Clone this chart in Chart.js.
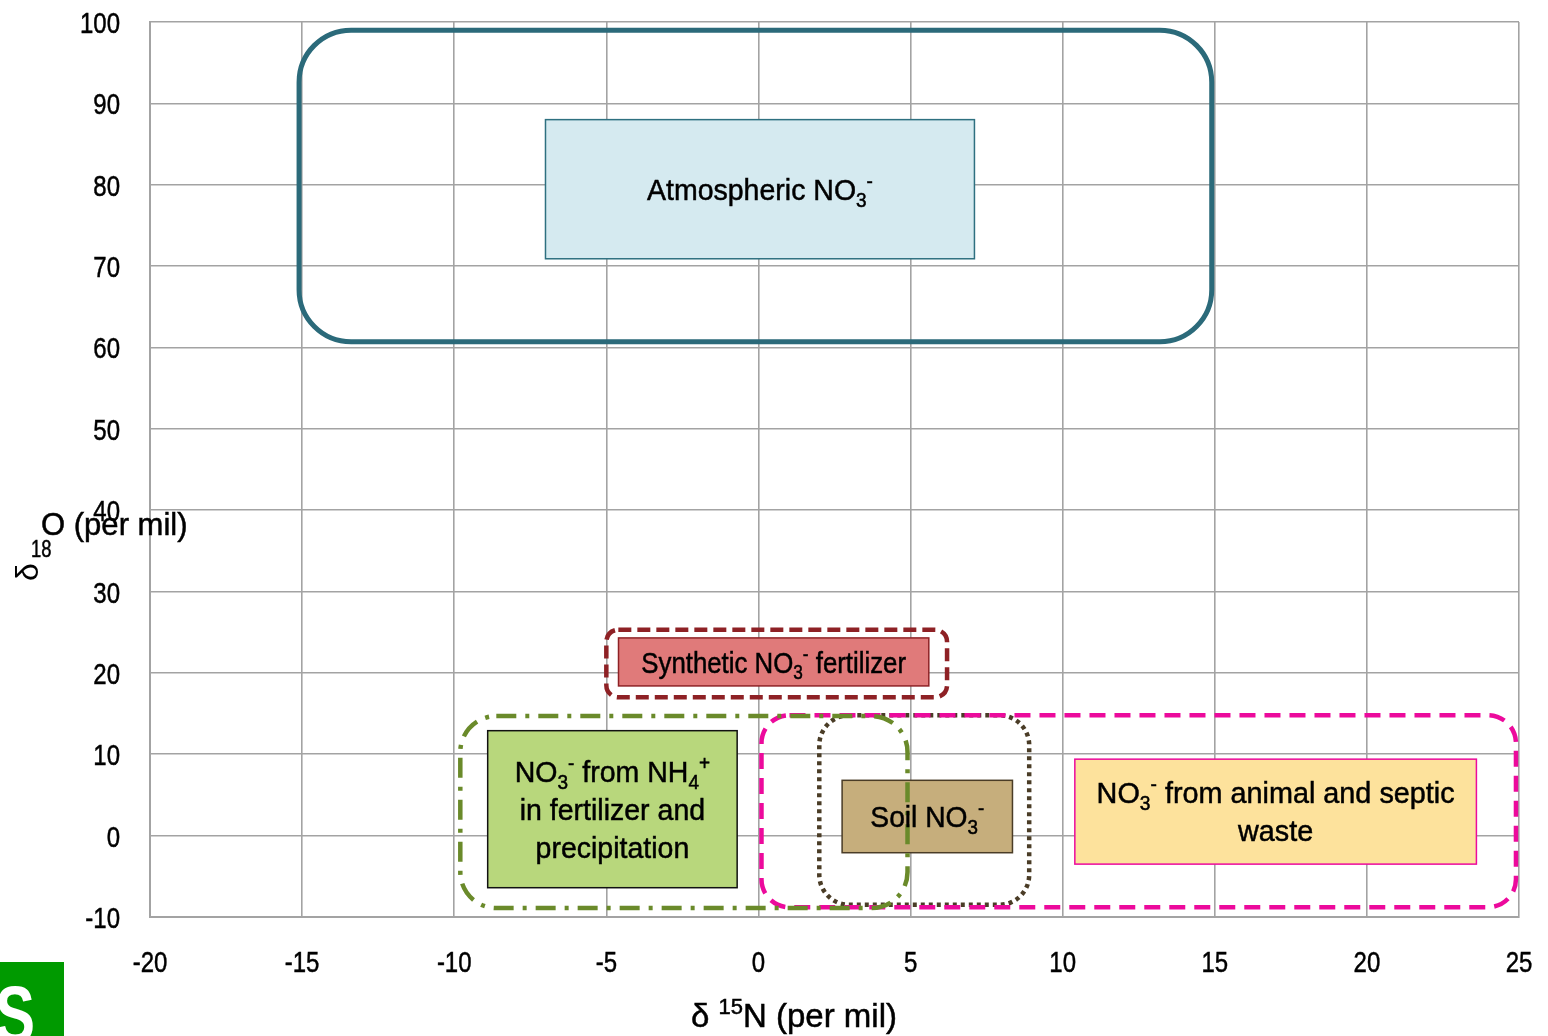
<!DOCTYPE html>
<html>
<head>
<meta charset="utf-8">
<script src="https://cdn.jsdelivr.net/npm/chart.js@4/dist/chart.umd.min.js"></script>
<style>
  html, body { margin: 0; padding: 0; background: #fff; }
  #wrap { position: relative; width: 1548px; height: 1036px; }
</style>
</head>
<body>
<div id="wrap"><canvas id="c" width="1548" height="1036"></canvas></div>
<script>
// ---- Data (per mil) ----
const xTicks = [-20, -15, -10, -5, 0, 5, 10, 15, 20, 25];
const yTicks = [-10, 0, 10, 20, 30, 40, 50, 60, 70, 80, 90, 100];

const sourceNames = ['Atmospheric', 'Synthetic fertilizer', 'NH4 fertilizer and precipitation', 'Soil', 'Animal and septic waste'];
// outer range outlines (rounded boxes)
const rangeX0 = [-15.1, -5.0, -9.8, 2.0, 0.1];
const rangeX1 = [14.9, 6.2, 4.9, 8.9, 24.9];
const rangeY0 = [60.7, 17.0, -8.9, -8.5, -8.8];
const rangeY1 = [99.0, 25.3, 14.7, 14.8, 14.8];
// labelled boxes
const labelX0 = [-7.0, -4.6, -8.9, 2.75, 10.4];
const labelX1 = [7.1, 5.6, -0.7, 8.35, 23.6];
const labelY0 = [70.9, 18.4, -6.4, -2.1, -3.5];
const labelY1 = [88.0, 24.3, 12.9, 6.8, 9.4];
// label text: lines of segments [text, mode] mode: n normal, b sub, p sup
const labelLines = [
  [[['Atmospheric NO','n'],['3','b'],['-','p']]],
  [[['Synthetic NO','n'],['3','b'],['-','p'],[' fertilizer','n']]],
  [[['NO','n'],['3','b'],['-','p'],[' from NH','n'],['4','b'],['+','p']],
   [['in fertilizer and','n']],
   [['precipitation','n']]],
  [[['Soil NO','n'],['3','b'],['-','p']]],
  [[['NO','n'],['3','b'],['-','p'],[' from animal and septic','n']],
   [['waste','n']]]
];

// ---- Styles ----
const FONT = "'Liberation Sans', Arial, sans-serif";
const outlineColor = ['#2b6a7a', '#8e2125', '#6a8a2a', '#4a3c26', '#ec0a9c'];
const outlineDash = [[], [13, 6], [20, 9, 4, 9], [4, 4], [16, 9]];
const outlineRadius = [52, 12, 36, 30, 28];
const outlineWidth = [5, 4.5, 4.5, 4.5, 4.5];
const fillColor = ['#d5eaf0', '#e07a7a', '#b8d77c', '#c6ae7c', '#fde29c'];
const fillBorder = ['#2e7080', '#8e2125', '#111111', '#4a3c26', '#ec0a9c'];
const labelCondense = [0.95, 0.86, 0.95, 0.94, 0.96];

function segSize(m, size) { return m === 'n' ? size : Math.round(size * 0.66); }
function richWidth(ctx, segs, size) {
  let w = 0;
  for (const [t, m] of segs) {
    ctx.font = segSize(m, size) + 'px ' + FONT;
    w += ctx.measureText(t).width;
  }
  return w;
}
function putText(ctx, t, x, y) {
  ctx.strokeText(t, x, y);
  ctx.fillText(t, x, y);
}
// draw rich text, horizontally condensed by sx, centred on cx
function drawRich(ctx, segs, cx, baseY, size, sx) {
  const w = richWidth(ctx, segs, size) * sx;
  ctx.save();
  ctx.translate(cx - w / 2, baseY);
  ctx.scale(sx, 1);
  ctx.textAlign = 'left';
  ctx.textBaseline = 'alphabetic';
  ctx.lineWidth = 0.5;
  ctx.strokeStyle = ctx.fillStyle;
  let x = 0;
  for (const [t, m] of segs) {
    ctx.font = segSize(m, size) + 'px ' + FONT;
    let dy = 0;
    if (m === 'b') dy = size * 0.22;
    if (m === 'p') dy = -size * 0.4;
    putText(ctx, t, x, dy);
    x += ctx.measureText(t).width;
  }
  ctx.restore();
}
function drawCond(ctx, text, x, baseY, size, sx, align) {
  ctx.save();
  ctx.font = size + 'px ' + FONT;
  const w = ctx.measureText(text).width * sx;
  let left = x;
  if (align === 'right') left = x - w;
  else if (align === 'center') left = x - w / 2;
  ctx.translate(left, baseY);
  ctx.scale(sx, 1);
  ctx.textAlign = 'left';
  ctx.textBaseline = 'alphabetic';
  ctx.lineWidth = 0.5;
  ctx.strokeStyle = ctx.fillStyle;
  putText(ctx, text, 0, 0);
  ctx.restore();
}

const boxesPlugin = {
  id: 'boxes',
  afterDatasetsDraw(chart) {
    const ctx = chart.ctx;
    const xs = chart.scales.x, ys = chart.scales.y;
    ctx.save();
    // filled label boxes
    for (let i = 0; i < sourceNames.length; i++) {
      const x0 = xs.getPixelForValue(labelX0[i]), x1 = xs.getPixelForValue(labelX1[i]);
      const y0 = ys.getPixelForValue(labelY1[i]), y1 = ys.getPixelForValue(labelY0[i]);
      ctx.fillStyle = fillColor[i];
      ctx.fillRect(x0, y0, x1 - x0, y1 - y0);
      ctx.lineWidth = 1.5;
      ctx.strokeStyle = fillBorder[i];
      ctx.setLineDash([]);
      ctx.strokeRect(x0, y0, x1 - x0, y1 - y0);
    }
    // range outlines
    const order = [0, 1, 3, 4, 2];
    for (const i of order) {
      const x0 = xs.getPixelForValue(rangeX0[i]), x1 = xs.getPixelForValue(rangeX1[i]);
      const y0 = ys.getPixelForValue(rangeY1[i]), y1 = ys.getPixelForValue(rangeY0[i]);
      ctx.beginPath();
      ctx.roundRect(x0, y0, x1 - x0, y1 - y0, outlineRadius[i]);
      ctx.lineWidth = outlineWidth[i];
      ctx.strokeStyle = outlineColor[i];
      ctx.setLineDash(outlineDash[i]);
      ctx.lineCap = 'butt';
      ctx.stroke();
    }
    ctx.setLineDash([]);
    // labels
    ctx.fillStyle = '#000';
    const size = 30, lh = 38;
    for (let i = 0; i < sourceNames.length; i++) {
      const cx = (xs.getPixelForValue(labelX0[i]) + xs.getPixelForValue(labelX1[i])) / 2;
      const cy = (ys.getPixelForValue(labelY0[i]) + ys.getPixelForValue(labelY1[i])) / 2;
      const lines = labelLines[i];
      const firstBase = cy - (lines.length - 1) * lh / 2 + size * 0.36;
      lines.forEach((segs, k) => drawRich(ctx, segs, cx, firstBase + k * lh, size, labelCondense[i]));
    }
    ctx.restore();
  },
  afterDraw(chart) {
    const ctx = chart.ctx;
    const xs = chart.scales.x, ys = chart.scales.y;
    ctx.save();
    ctx.fillStyle = '#000';
    // tick labels from the scales
    xs.ticks.forEach(t => drawCond(ctx, String(t.value), xs.getPixelForValue(t.value), 972, 30, 0.8, 'center'));
    ys.ticks.forEach(t => drawCond(ctx, String(t.value), 120, ys.getPixelForValue(t.value) + 11, 30, 0.8, 'right'));
    // x axis title
    drawRich(ctx, [['δ ','n'],['15','p'],['N (per mil)','n']], 794, 1027, 33, 1.0);
    // y axis title (as rendered in the original)
    drawCond(ctx, 'O (per mil)', 41, 535, 32, 0.97, 'left');
    drawCond(ctx, '18', 31, 557, 23, 0.8, 'left');
    ctx.save();
    ctx.translate(29, 572);
    ctx.rotate(-Math.PI / 2);
    ctx.font = '32px ' + FONT;
    ctx.textAlign = 'center';
    ctx.textBaseline = 'middle';
    ctx.fillText('δ', 0, 0);
    ctx.restore();
    ctx.restore();
    // logo fragment
    ctx.save();
    ctx.fillStyle = '#009a00';
    ctx.fillRect(0, 962, 64, 74);
    ctx.fillStyle = '#fff';
    ctx.font = 'bold 80px ' + FONT;
    ctx.translate(-5, 1042);
    ctx.scale(0.75, 1);
    ctx.textAlign = 'left';
    ctx.textBaseline = 'alphabetic';
    ctx.fillText('S', 0, 0);
    ctx.restore();
  }
};

new Chart(document.getElementById('c'), {
  type: 'scatter',
  data: { datasets: [{ data: [], pointRadius: 0 }] },
  options: {
    responsive: false,
    animation: false,
    events: [],
    layout: { padding: { left: 0, top: 22, right: 29, bottom: 0 } },
    plugins: { legend: { display: false }, tooltip: { enabled: false } },
    scales: {
      x: {
        type: 'linear', min: -20, max: 25,
        afterBuildTicks: s => { s.ticks = xTicks.map(v => ({ value: v })); },
        afterFit: s => { s.height = 119; },
        grid: { color: '#a3a3a3', lineWidth: 1.6, drawTicks: false },
        border: { color: '#a3a3a3', width: 2 },
        ticks: { display: false }
      },
      y: {
        type: 'linear', min: -10, max: 100,
        afterBuildTicks: s => { s.ticks = yTicks.map(v => ({ value: v })); },
        afterFit: s => { s.width = 150; },
        grid: { color: '#a3a3a3', lineWidth: 1.6, drawTicks: false },
        border: { color: '#a3a3a3', width: 2 },
        ticks: { display: false }
      }
    }
  },
  plugins: [boxesPlugin]
});
</script>
</body>
</html>
